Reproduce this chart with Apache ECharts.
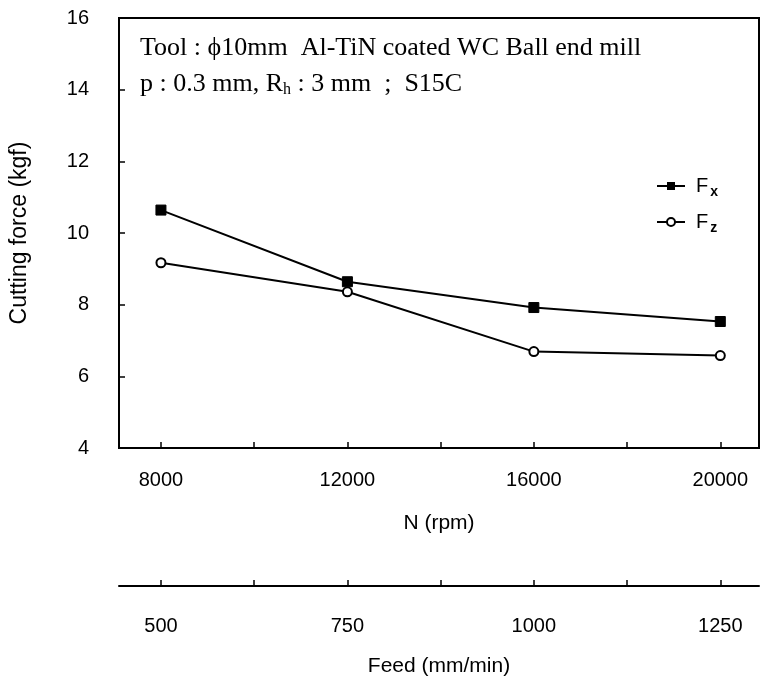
<!DOCTYPE html>
<html><head><meta charset="utf-8">
<script src="https://cdn.jsdelivr.net/npm/echarts@6/dist/echarts.min.js"></script>
<style>html,body{margin:0;padding:0;background:#fff}#c{width:761px;height:682px}</style>
</head><body><div id="c"></div>
<script>
const rpm = [8000, 12000, 16000, 20000];
const fx = [10.64, 8.64, 7.92, 7.53];
const fz = [9.17, 8.36, 6.69, 6.58];
const rpmLabels = [8000, 12000, 16000, 20000];
const rpmTicks = [8000, 10000, 12000, 14000, 16000, 18000, 20000];
const feedLabels = [500, 750, 1000, 1250];
const feedTicks = [500, 625, 750, 875, 1000, 1125, 1250];
const rpmMin = 7100, rpmMax = 20830;
const feedPerRpm = 1 / 16;

const sans = 'Liberation Sans';
const black = '#000';

function xAx(min, max, ticks, labels, name, offset, nameGap, margin) {
  return {
    type: 'value', position: 'bottom', min: min, max: max, offset: offset,
    axisLine: { show: true, onZero: false, lineStyle: { color: black, width: 2 } },
    axisTick: { show: true, inside: true, length: 6, customValues: ticks, lineStyle: { color: black, width: 1.5 } },
    axisLabel: { customValues: labels, formatter: v => String(v), color: black, fontFamily: sans, fontSize: 20, margin: margin },
    splitLine: { show: false },
    name: name, nameLocation: 'middle', nameGap: nameGap,
    nameTextStyle: { color: black, fontFamily: sans, fontSize: 21 }
  };
}

const chart = echarts.init(document.getElementById('c'));
chart.setOption({
  backgroundColor: '#fff',
  animation: false,
  grid: { left: 117, right: 2, top: 18, bottom: 232, show: true, borderColor: black, borderWidth: 2, backgroundColor: 'transparent' },
  xAxis: [
    xAx(rpmMin, rpmMax, rpmTicks, rpmLabels, 'N (rpm)', 0, 65, 22),
    xAx(rpmMin * feedPerRpm, rpmMax * feedPerRpm, feedTicks, feedLabels, 'Feed (mm/min)', 138, 70, 30)
  ],
  yAxis: {
    type: 'value', min: 4, max: 16, interval: 2,
    axisLine: { show: true, lineStyle: { color: black, width: 2 } },
    axisTick: { show: true, inside: true, length: 6, lineStyle: { color: black, width: 1.5 } },
    axisLabel: { color: black, fontFamily: sans, fontSize: 20, margin: 30 },
    splitLine: { show: false },
    name: 'Cutting force (kgf)', nameLocation: 'middle', nameGap: 88, nameRotate: 90,
    nameTextStyle: { color: black, fontFamily: sans, fontSize: 23 }
  },
  legend: {
    orient: 'vertical', left: 651, top: 168, itemWidth: 28, itemHeight: 10, itemGap: 10,
    data: ['Fx', 'Fz'],
    formatter: function (n) { return '{m|F}{s|' + n.slice(1) + '}'; },
    textStyle: {
      color: black, fontFamily: sans,
      rich: {
        m: { fontSize: 20, fontFamily: sans, color: black, lineHeight: 24, padding: [0, 0, 0, 6] },
        s: { fontSize: 14, fontFamily: sans, color: black, fontWeight: 'bold', lineHeight: 24, padding: [12, 0, 0, 2] }
      }
    }
  },
  graphic: [
    { type: 'text', left: 140, top: 35, style: { text: 'Tool : \u03d510mm  Al-TiN coated WC Ball end mill', font: '26px "Liberation Serif"', fill: black } },
    { type: 'text', left: 140, top: 71, style: {
      text: '{a|p : 0.3 mm, R}{b|h}{a| : 3 mm  ;  S15C}',
      rich: { a: { font: '26px "Liberation Serif"', fill: black, color: black }, b: { font: '16px "Liberation Serif"', fill: black, color: black, padding: [12, 0, 0, 0] } }
    } }
  ],
  series: [
    { name: 'Fx', type: 'line', xAxisIndex: 0, data: rpm.map((r, i) => [r, fx[i]]),
      symbol: 'rect', symbolSize: 10, lineStyle: { color: black, width: 2 },
      itemStyle: { color: black, borderColor: black } },
    { name: 'Fz', type: 'line', xAxisIndex: 0, data: rpm.map((r, i) => [r, fz[i]]),
      symbol: 'circle', symbolSize: 9, lineStyle: { color: black, width: 2 },
      itemStyle: { color: '#fff', borderColor: black, borderWidth: 2 } }
  ]
});
</script></body></html>
